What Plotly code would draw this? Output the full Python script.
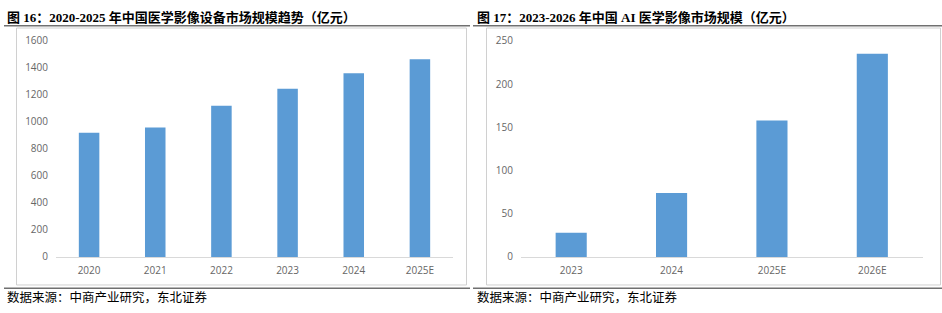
import plotly.graph_objects as go

W, H = 942, 313

# Data
cats_left = ["2020", "2021", "2022", "2023", "2024", "2025E"]
vals_left = [920, 958, 1120, 1245, 1360, 1465]
cats_right = ["2023", "2024", "2025E", "2026E"]
vals_right = [28, 74, 158, 235]

title_left = "<b>图 16：2020-2025 年中国医学影像设备市场规模趋势（亿元）</b>"
title_right = "<b>图 17：2023-2026 年中国 AI 医学影像市场规模（亿元）</b>"
source_text = "数据来源：中商产业研究，东北证券"

BAR = "#5b9bd5"
TICK = "#666666"
TICKFONT = dict(family="Open Sans, Liberation Sans, sans-serif", size=10, color=TICK)

def px(x):
    return x / W

def py(y):
    return 1 - y / H

fig = go.Figure()
fig.add_trace(go.Bar(x=cats_left, y=vals_left, marker=dict(color=BAR, line=dict(width=0)),
                     xaxis="x", yaxis="y", width=0.31))
fig.add_trace(go.Bar(x=cats_right, y=vals_right, marker=dict(color=BAR, line=dict(width=0)),
                     xaxis="x2", yaxis="y2", width=0.31))

ydom = [py(261.7), py(35.5)]
axis_common = dict(showgrid=False, zeroline=False, ticks="", tickfont=TICKFONT, fixedrange=True)

fig.update_layout(
    width=W, height=H,
    margin=dict(l=0, r=0, t=0, b=0),
    paper_bgcolor="white", plot_bgcolor="white",
    showlegend=False,
    xaxis=dict(domain=[px(56), px(453)], anchor="y", showline=True, linecolor="#d9d9d9",
               linewidth=1, ticklabelstandoff=4, **axis_common),
    yaxis=dict(domain=ydom, anchor="x", range=[0, 1600], dtick=200, showline=False,
               ticklabelstandoff=7, **axis_common),
    xaxis2=dict(domain=[px(521), px(922.5)], anchor="y2", showline=True, linecolor="#d9d9d9",
                linewidth=1, ticklabelstandoff=4, **axis_common),
    yaxis2=dict(domain=ydom, anchor="x2", range=[0, 250], dtick=50, showline=False,
                ticklabelstandoff=7, **axis_common),
)

shapes = []
# chart boxes
for x0, x1 in [(16.5, 466.5), (486.5, 940.5)]:
    shapes.append(dict(type="rect", xref="paper", yref="paper", x0=px(x0), x1=px(x1),
                       y0=py(291), y1=py(22), line=dict(color="#d0d0d0", width=1),
                       fillcolor="rgba(0,0,0,0)", layer="below"))
# rules
for x0, x1 in [(4, 470), (473, 942)]:
    for yy in [19.5, 294.5]:
        shapes.append(dict(type="line", xref="paper", yref="paper", x0=px(x0), x1=px(x1),
                           y0=py(yy), y1=py(yy), line=dict(color="#707070", width=1.5)))
fig.update_layout(shapes=shapes)

TITLEFONT = dict(family="Liberation Serif, Noto Sans CJK SC, serif", size=13, color="black")
SRCFONT = dict(family="Noto Sans CJK SC, sans-serif", size=12.5, color="black")
ann = []
for x0, t in [(5, title_left), (475, title_right)]:
    ann.append(dict(text=t, xref="paper", yref="paper", x=px(x0), y=py(10.5), xanchor="left",
                    yanchor="middle", showarrow=False, font=TITLEFONT))
    ann.append(dict(text=source_text, xref="paper", yref="paper", x=px(x0), y=py(303),
                    xanchor="left", yanchor="middle", showarrow=False, font=SRCFONT))
fig.update_layout(annotations=ann)

fig.write_html("out.html")
